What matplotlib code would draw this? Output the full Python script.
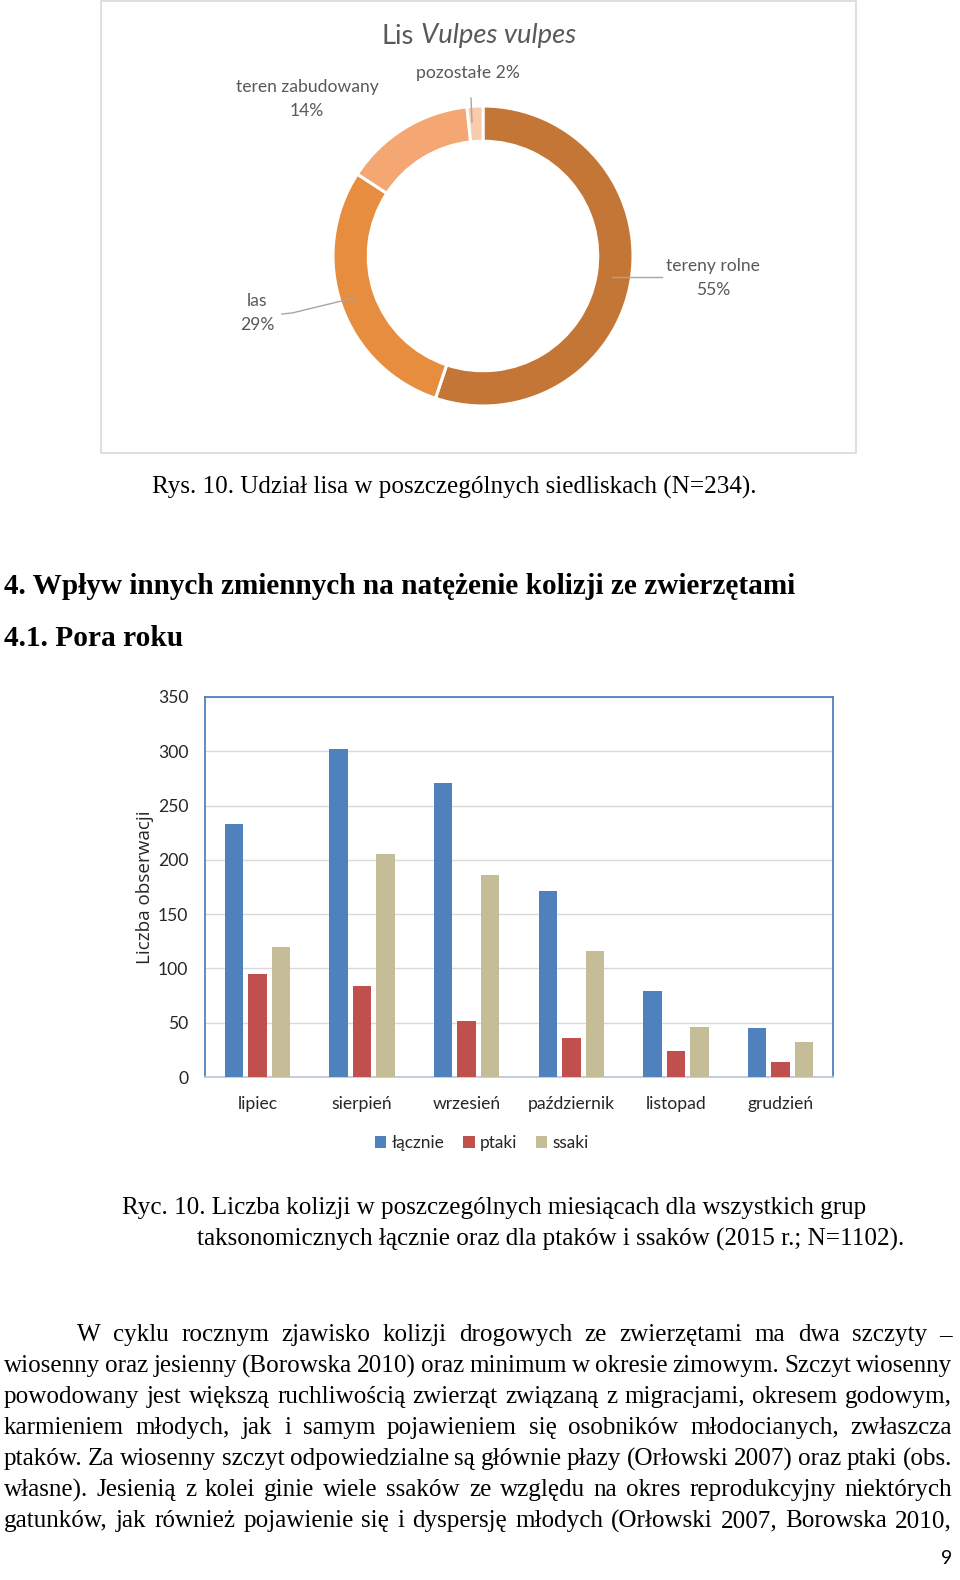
import numpy as np
import matplotlib
matplotlib.use("Agg")
import matplotlib.pyplot as plt
from matplotlib.patches import Rectangle
from matplotlib.lines import Line2D

W, H = 960, 1580

# donut chart: habitat share of the fox (N=234)
habitats = ["tereny rolne", "las", "teren zabudowany", "pozostałe"]
habitat_counts = [129, 68, 33, 4]
habitat_colors = ["#C47636", "#E78D40", "#F4A772", "#F8CBAD"]

# bar chart: collisions per month
months = ["lipiec", "sierpień", "wrzesień", "październik", "listopad", "grudzień"]
lacznie = [233, 302, 271, 171, 79, 45]
ptaki = [95, 84, 52, 36, 24, 14]
ssaki = [120, 205, 186, 116, 46, 32]
series_names = ["łącznie", "ptaki", "ssaki"]
series_colors = ["#4F81BD", "#C0504D", "#C4BD97"]

caption1 = "Rys. 10. Udział lisa w poszczególnych siedliskach (N=234)."
heading1 = "4. Wpływ innych zmiennych na natężenie kolizji ze zwierzętami"
heading2 = "4.1. Pora roku"
caption2a = "Ryc. 10. Liczba kolizji w poszczególnych miesiącach dla wszystkich grup"
caption2b = "taksonomicznych łącznie oraz dla ptaków i ssaków (2015 r.; N=1102)."
body_lines = [
    "W cyklu rocznym zjawisko kolizji drogowych ze zwierzętami ma dwa szczyty –",
    "wiosenny oraz jesienny (Borowska 2010) oraz minimum w okresie zimowym. Szczyt wiosenny",
    "powodowany jest większą ruchliwością zwierząt związaną z migracjami, okresem godowym,",
    "karmieniem młodych, jak i samym pojawieniem się osobników młodocianych, zwłaszcza",
    "ptaków. Za wiosenny szczyt odpowiedzialne są głównie płazy (Orłowski 2007) oraz ptaki (obs.",
    "własne). Jesienią z kolei ginie wiele ssaków ze względu na okres reprodukcyjny niektórych",
    "gatunków, jak również pojawienie się i dyspersję młodych (Orłowski 2007, Borowska 2010,",
]

SERIF = "Liberation Serif"
SANS = "Lato"
GRAY = "#595959"

fig = plt.figure(figsize=(W / 100, H / 100), dpi=100)
fig.patch.set_facecolor("white")
renderer = fig.canvas.get_renderer()


def fx(x):
    return x / W


def fy(y):
    return 1 - y / H


def px_axes(left, top, right, bottom):
    return fig.add_axes([fx(left), fy(bottom), (right - left) / W, (bottom - top) / H])


def ptext(x, y, s, **kw):
    kw.setdefault("va", "center")
    return fig.text(fx(x), fy(y), s, **kw)


def width_of(t):
    return t.get_window_extent(renderer).width


def fit_text(x0, x1, y, s, size, **kw):
    # place text starting at x0 and rescale so that it ends at x1
    t = ptext(x0, y, s, fontsize=size, ha="left", **kw)
    t.set_fontsize(size * (x1 - x0) / width_of(t))
    return t


def justify(x0, x1, y, line, size, **kw):
    words = line.split(" ")
    objs = [ptext(x0, y, w, fontsize=size, ha="left", **kw) for w in words]
    widths = [width_of(o) for o in objs]
    gap = (x1 - x0 - sum(widths)) / (len(words) - 1)
    x = x0
    for o, w in zip(objs, widths):
        o.set_x(fx(x))
        x += w + gap


# ---- donut chart ----
fig.add_artist(Rectangle((fx(101), fy(453)), (856 - 101) / W, 452 / H,
                         transform=fig.transFigure, fill=False,
                         edgecolor="#D9D9D9", linewidth=1.2))
ax1 = px_axes(333, 106, 633, 406)
ax1.pie(habitat_counts, colors=habitat_colors, startangle=90, counterclock=False,
        radius=1, wedgeprops=dict(width=0.235, edgecolor="white", linewidth=2.2))
ax1.set_xlim(-1.0, 1.0)
ax1.set_ylim(-1.0, 1.0)
ax1.set_aspect("equal")
ax1.axis("off")

# title: "Lis" upright, species name in italics, fitted to 381..576
t_size = 15.5
t1 = ptext(381, 36, "Lis", fontsize=t_size, color=GRAY, family=SANS, ha="left")
t2 = ptext(381, 36, "Vulpes vulpes", fontsize=t_size, color=GRAY, family=SANS,
           style="italic", ha="left")
sp = 0.28 * t_size * 100 / 72
scale = (576 - 381) / (width_of(t1) + sp + width_of(t2))
t_size *= scale
t1.set_fontsize(t_size)
t2.set_fontsize(t_size)
t2.set_x(fx(381 + width_of(t1) + 0.28 * t_size * 100 / 72))

pct = np.round(100 * np.array(habitat_counts) / sum(habitat_counts)).astype(int)
lab_kw = dict(fontsize=12.6, color=GRAY, family=SANS, ha="center", linespacing=1.55)
ptext(713, 278, f"{habitats[0]}\n{pct[0]}%", **lab_kw)
ptext(257, 313, f"{habitats[1]}\n{pct[1]}%", **lab_kw)
ptext(307, 99, f"{habitats[2]}\n{pct[2]}%", **lab_kw)
ptext(468, 73, f"{habitats[3]} {pct[3]}%", **lab_kw)

lead = dict(color="#A6A6A6", linewidth=1.0, transform=fig.transFigure)
fig.add_artist(Line2D([fx(612), fx(662)], [fy(277), fy(277)], **lead))
fig.add_artist(Line2D([fx(282), fx(292), fx(354)], [fy(314), fy(313), fy(298)], **lead))
fig.add_artist(Line2D([fx(471), fx(472)], [fy(98), fy(122)], **lead))

fit_text(152, 757, 487, caption1, 16, family=SERIF)
fit_text(4, 796, 586, heading1, 20, family=SERIF, weight="bold")
fit_text(4, 183, 639, heading2, 20, family=SERIF, weight="bold")

# ---- bar chart ----
ax2 = px_axes(205, 697, 833, 1077)
x = np.arange(len(months))
bw = 0.176
step = 0.225
for i, (vals, name, col) in enumerate(zip([lacznie, ptaki, ssaki], series_names, series_colors)):
    ax2.bar(x + (i - 1) * step, vals, width=bw, color=col, label=name, zorder=3)
ax2.set_xlim(-0.5, len(months) - 0.5)
ax2.set_ylim(0, 350)
ax2.set_yticks(range(0, 351, 50))
ax2.set_xticks(x)
ax2.set_xticklabels(months)
ax2.grid(axis="y", color="#D9D9D9", linewidth=1.0, zorder=0)
ax2.tick_params(length=0, labelsize=12.6, labelcolor="#262626", pad=12)
ax2.tick_params(axis="x", pad=14)
for lab in ax2.get_xticklabels() + ax2.get_yticklabels():
    lab.set_family(SANS)
for side in ["top", "right", "left"]:
    ax2.spines[side].set_color("#4F81BD")
    ax2.spines[side].set_linewidth(1.3)
ax2.spines["bottom"].set_color("#BFC9D9")
ax2.spines["bottom"].set_linewidth(1.3)
ax2.set_ylabel("Liczba obserwacji", fontsize=13.6, family="Open Sans", color="#262626")
ax2.yaxis.set_label_coords(-0.082, 0.5)
leg = ax2.legend(loc="center", bbox_to_anchor=(0.441, -0.174), ncol=3, frameon=False,
                 prop=dict(family=SANS, size=12.4), handlelength=0.65, handleheight=0.65,
                 handletextpad=0.3, columnspacing=1.1)
for t in leg.get_texts():
    t.set_color("#262626")

cap = fit_text(122, 867, 1208, caption2a, 16, family=SERIF)
fit_text(197, 906, 1239, caption2b, 16, family=SERIF)

# ---- body text ----
body_size = cap.get_fontsize()
y0 = 1335
for k, line in enumerate(body_lines):
    justify(77 if k == 0 else 4, 952, y0 + 31 * k, line, body_size, family=SERIF)

ptext(952, 1558, "9", fontsize=14, family=SANS, ha="right")

fig.savefig("out.png", dpi=100, facecolor="white")
